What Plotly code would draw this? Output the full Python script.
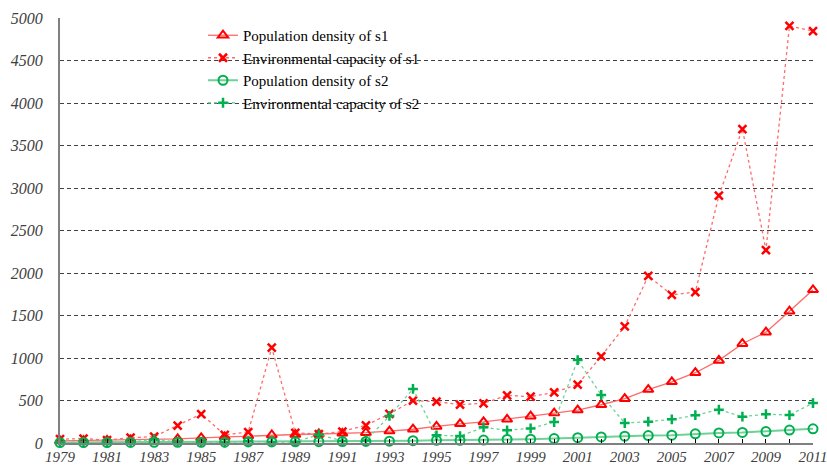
import plotly.graph_objects as go

years = list(range(1979, 2012))
pop_density_s1 = [25, 28, 32, 36, 40, 48, 60, 72, 84, 94, 100, 106, 114, 122, 140, 162, 195, 226,
                  248, 278, 316, 352, 388, 450, 522, 628, 720, 827, 972, 1168, 1304, 1550, 1802]
env_capacity_s1 = [45, 52, 35, 62, 75, 204, 341, 95, 129, 1122, 120, 104, 135, 208, 343, 498, 488,
                   451, 467, 561, 545, 596, 688, 1020, 1372, 1965, 1743, 1776, 2910, 3694, 2270, 4906, 4847]
pop_density_s2 = [5, 6, 6, 7, 8, 8, 9, 10, 12, 13, 14, 15, 17, 19, 22, 27, 31, 32, 35, 42, 44, 52,
                  62, 72, 80, 88, 92, 108, 118, 125, 135, 152, 167]
env_capacity_s2 = [5, 6, 5, 10, 45, 10, 8, 5, 20, 10, 12, 100, 25, 30, 318, 636, 90, 82, 184, 149,
                   172, 247, 976, 565, 235, 251, 278, 327, 392, 310, 339, 329, 470]
x_tick_labels = [str(y) if (y - 1979) % 2 == 0 else "" for y in years]
y_tick_values = list(range(0, 5001, 500))

RED = "#FF0000"
RED_LINE = "#FF6A6A"
GREEN = "#00B050"
GREEN_LINE = "#6FD196"

fig = go.Figure()
fig.add_trace(go.Scatter(
    x=years, y=pop_density_s1, name="Population density of s1", mode="lines+markers",
    line=dict(color=RED_LINE, width=1.3),
    marker=dict(symbol="triangle-up-open", size=9, color=RED, line=dict(width=2, color=RED)),
    cliponaxis=False))
fig.add_trace(go.Scatter(
    x=years, y=env_capacity_s1, name="Environmental capacity of s1", mode="lines+markers",
    line=dict(color=RED_LINE, width=1.3, dash="3px,3px"),
    marker=dict(symbol="x-thin-open", size=8, color=RED, line=dict(width=2.5, color=RED)),
    cliponaxis=False))
fig.add_trace(go.Scatter(
    x=years, y=pop_density_s2, name="Population density of s2", mode="lines+markers",
    line=dict(color=GREEN_LINE, width=2),
    marker=dict(symbol="circle-open", size=9, color=GREEN, line=dict(width=2, color=GREEN)),
    cliponaxis=False))
fig.add_trace(go.Scatter(
    x=years, y=env_capacity_s2, name="Environmental capacity of s2", mode="lines+markers",
    line=dict(color=GREEN_LINE, width=1.3, dash="3px,3px"),
    marker=dict(symbol="cross-thin-open", size=7, color=GREEN, line=dict(width=2.5, color=GREEN)),
    cliponaxis=False))

y_tick_font = dict(family="Liberation Serif", size=16, color="#404040", style="italic")
x_tick_font = dict(family="Liberation Serif", size=15, color="#404040", style="italic")

fig.update_layout(
    width=827, height=465,
    margin=dict(l=60, r=14, t=18, b=22, autoexpand=False),
    paper_bgcolor="white", plot_bgcolor="white",
    font=dict(family="Liberation Serif"),
    showlegend=True,
    legend=dict(
        x=(203 - 60) / 753, y=(443 - 19) / 425, xanchor="left", yanchor="top",
        bgcolor="rgba(0,0,0,0)", borderwidth=0,
        font=dict(family="Liberation Serif", size=15, color="#000000"),
        tracegroupgap=0,
    ),
    xaxis=dict(
        range=[1979, 2011], tickmode="array", tickvals=years, ticktext=x_tick_labels,
        ticks="inside", ticklen=4, tickwidth=1, tickcolor="#000000",
        showline=True, linecolor="#808080", linewidth=2,
        showgrid=False, zeroline=False, tickfont=x_tick_font, tickangle=0,
        automargin=False, ticklabeloverflow="allow", ticklabelstandoff=-1,
    ),
    yaxis=dict(
        range=[0, 5000], tickmode="array", tickvals=y_tick_values,
        showline=True, linecolor="#808080", linewidth=2,
        showgrid=True, gridcolor="#404040", gridwidth=1, griddash="4px,3px",
        zeroline=False, ticks="", tickfont=y_tick_font, ticklabelstandoff=12,
        automargin=False,
    ),
)

fig.write_html("out.html", config={"displayModeBar": False},
               post_script="document.body.style.margin='0';document.body.style.overflow='hidden';")
